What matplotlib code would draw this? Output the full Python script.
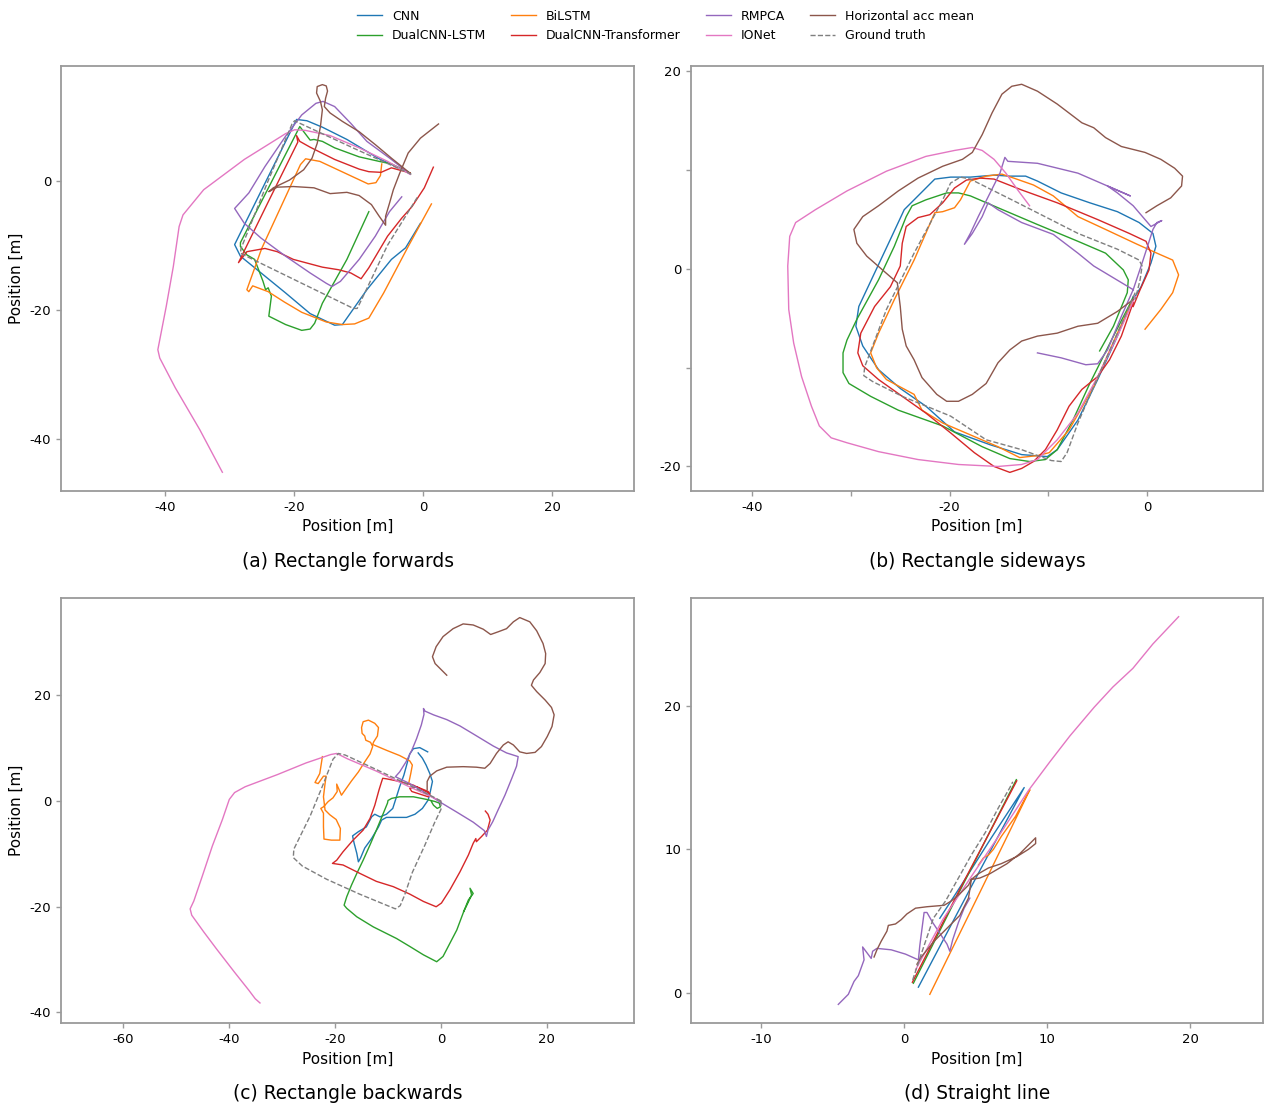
import matplotlib
matplotlib.use("Agg")
import matplotlib.pyplot as plt

plt.rcParams['font.family'] = ['DejaVu Sans']
plt.rcParams['axes.unicode_minus'] = False

# ---------------- legend / series definitions ----------------
series_names = ["CNN", "DualCNN-LSTM", "BiLSTM", "DualCNN-Transformer",
                "RMPCA", "IONet", "Horizontal acc mean", "Ground truth"]
series_colors = ["#1f77b4", "#2ca02c", "#ff7f0e", "#d62728",
                 "#9467bd", "#e377c2", "#8c564b", "#7f7f7f"]

# ---------------- (a) Rectangle forwards ----------------
a_cnn = [(-2.0, 1.2), (-6.8, 3.4), (-11.8, 6.4), (-15.6, 8.3), (-18.0, 9.3), (-19.6, 9.5),
         (-24.4, -0.2), (-29.2, -9.9), (-28.3, -11.7), (-25.1, -14.3), (-21.3, -17.4),
         (-17.5, -20.6), (-13.7, -22.4), (-12.5, -22.3), (-8.7, -16.9), (-4.9, -12.2),
         (-2.7, -10.4), (-0.4, -6.6)]
a_dualcnn_lstm = [(-2.0, 1.2), (-4.9, 2.6), (-6.8, 3.0), (-9.9, 3.7), (-13.7, 5.1), (-15.6, 6.1),
                  (-16.9, 6.4), (-17.5, 6.3), (-19.1, 8.4), (-23.7, -0.6), (-28.3, -9.6),
                  (-28.3, -10.2), (-27.3, -11.5), (-26.1, -12.2), (-25.6, -13.5), (-24.8, -15.6),
                  (-24.4, -16.9), (-24.0, -16.6), (-23.5, -17.9), (-23.9, -21.0), (-21.3, -22.3),
                  (-18.8, -23.2), (-17.5, -23.0), (-16.8, -22.1), (-15.6, -19.0), (-11.8, -12.2),
                  (-8.4, -4.8)]
a_bilstm = [(-6.4, 2.6), (-6.6, 0.8), (-7.3, -0.3), (-8.5, -0.5), (-10.0, 0.2), (-13.0, 1.6),
            (-16.0, 3.0), (-18.2, 3.4), (-19.0, 2.5), (-22.0, -4.0), (-25.0, -10.5),
            (-27.3, -16.9), (-27.0, -17.2), (-26.4, -16.3), (-24.0, -17.2), (-21.5, -18.8),
            (-18.8, -20.4), (-15.0, -21.9), (-12.5, -22.3), (-10.6, -22.2), (-8.4, -21.3),
            (-6.1, -17.4), (-2.3, -10.2), (1.3, -3.6)]
a_dualcnn_transformer = [(-2.0, 1.2), (-4.9, 2.0), (-6.5, 1.3), (-8.4, 1.4), (-9.9, 1.8),
                         (-13.7, 3.3), (-17.5, 5.2), (-19.1, 6.1), (-19.6, 7.0), (-19.4, 6.0),
                         (-24.0, -3.3), (-28.6, -12.7), (-27.3, -11.0), (-24.5, -10.5),
                         (-22.6, -11.0), (-20.1, -12.2), (-15.6, -13.4), (-13.1, -13.8),
                         (-11.2, -14.3), (-9.6, -15.2), (-8.4, -13.5), (-5.5, -8.6), (-3.3, -5.8),
                         (-1.7, -4.0), (0.2, -1.1), (1.6, 2.1)]
a_rmpca = [(-2.0, 1.0), (-4.9, 3.3), (-8.7, 6.1), (-11.2, 8.9), (-13.7, 11.5), (-15.5, 12.3),
           (-16.6, 12.0), (-18.8, 10.2), (-21.3, 6.9), (-24.5, 2.2), (-27.0, -1.9), (-29.2, -4.3),
           (-27.7, -6.6), (-25.1, -8.9), (-21.3, -11.7), (-17.5, -14.3), (-15.0, -15.9),
           (-14.1, -16.4), (-12.8, -15.6), (-9.9, -12.2), (-7.4, -8.6), (-5.2, -4.8), (-3.3, -2.5)]
a_ionet = [(-2.0, 1.0), (-5.5, 3.0), (-9.9, 5.1), (-14.4, 7.0), (-18.2, 7.8), (-19.9, 7.9),
           (-21.3, 7.3), (-27.7, 3.3), (-34.0, -1.4), (-37.2, -5.3), (-37.8, -7.1), (-38.7, -13.3),
           (-39.8, -19.5), (-41.1, -26.2), (-40.8, -27.5), (-38.4, -32.1), (-34.6, -38.6),
           (-31.1, -45.2)]
a_horizontal = [(-2.3, 1.4), (-4.9, 3.5), (-7.4, 5.6), (-9.9, 7.6), (-12.5, 9.2), (-14.4, 10.5),
                (-15.3, 11.5), (-15.1, 12.8), (-14.8, 13.9), (-15.0, 14.7), (-15.6, 14.9),
                (-16.4, 14.6), (-16.5, 13.6), (-15.9, 12.3), (-15.6, 11.0), (-15.9, 8.4),
                (-16.4, 5.8), (-17.2, 3.5), (-18.5, 1.7), (-20.7, 0.1), (-23.2, -1.1),
                (-23.9, -1.7), (-22.6, -1.0), (-20.1, -0.9), (-16.9, -1.1), (-14.4, -2.0),
                (-11.8, -1.8), (-9.9, -2.3), (-8.0, -3.7), (-6.8, -5.5), (-5.8, -6.9), (-5.8, -5.5),
                (-5.2, -3.5), (-4.6, -1.4), (-3.6, 1.2), (-2.3, 4.3), (-0.4, 6.6), (2.4, 8.8)]
a_ground_truth = [(-1.8, 1.0), (-10.0, 4.7), (-19.3, 9.0), (-19.9, 9.3), (-20.3, 8.8),
                  (-24.0, 0.0), (-28.2, -10.5), (-28.3, -11.2), (-27.6, -11.6), (-19.0, -15.8),
                  (-10.8, -19.8), (-10.2, -19.8), (-9.8, -19.0), (-5.5, -10.0), (-0.9, -2.6)]

# ---------------- (b) Rectangle sideways ----------------
b_cnn = [(-1.4, -2.8), (-3.0, -6.8), (-5.0, -11.2), (-7.0, -15.3), (-9.1, -18.3), (-10.1, -19.0),
         (-12.7, -18.8), (-15.9, -17.8), (-19.5, -16.5), (-22.4, -13.9), (-25.0, -12.1),
         (-27.2, -10.2), (-28.8, -7.8), (-29.5, -5.8), (-29.2, -3.8), (-27.6, -0.4), (-26.0, 3.0),
         (-24.6, 6.0), (-23.2, 7.4), (-21.5, 9.1), (-19.9, 9.3), (-17.9, 9.3), (-15.5, 9.5),
         (-13.9, 9.4), (-12.3, 9.4), (-11.1, 8.9), (-8.7, 7.7), (-5.8, 6.7), (-3.0, 5.8),
         (-0.8, 4.7), (0.6, 3.6), (0.9, 2.3), (0.4, 0.6), (-0.6, -1.8), (-1.4, -3.1)]
b_dualcnn_lstm = [(-1.4, -2.9), (-3.4, -6.8), (-5.8, -11.6), (-7.5, -15.3), (-9.1, -18.3),
                  (-10.3, -19.3), (-11.9, -19.5), (-13.9, -19.2), (-16.7, -18.0), (-20.7, -15.9),
                  (-25.2, -14.3), (-28.0, -12.9), (-30.2, -11.6), (-30.8, -10.5), (-30.8, -8.5),
                  (-30.4, -7.2), (-29.4, -5.1), (-27.2, -1.1), (-25.6, 2.3), (-24.4, 5.3),
                  (-23.8, 6.4), (-22.4, 7.0), (-20.3, 7.7), (-19.1, 7.7), (-17.9, 7.4),
                  (-15.1, 6.2), (-11.1, 4.5), (-7.0, 2.8), (-4.2, 1.6), (-2.4, -0.1), (-1.9, -1.1),
                  (-2.0, -2.4), (-3.4, -5.8), (-4.8, -8.3)]
b_bilstm = [(-1.4, -3.1), (-3.0, -6.5), (-5.4, -11.9), (-7.9, -16.3), (-9.9, -18.6),
            (-11.1, -18.9), (-12.9, -19.1), (-15.1, -18.0), (-17.9, -16.8), (-20.7, -15.6),
            (-22.8, -14.3), (-23.6, -12.7), (-26.4, -11.2), (-27.4, -10.0), (-28.0, -8.5),
            (-27.2, -6.5), (-25.6, -3.1), (-23.6, 0.9), (-21.5, 5.7), (-20.7, 5.8), (-19.5, 6.2),
            (-18.9, 7.0), (-17.9, 8.9), (-16.3, 9.4), (-14.7, 9.6), (-13.5, 9.2), (-11.5, 8.5),
            (-9.5, 7.4), (-7.0, 5.3), (-4.2, 4.0), (-1.0, 2.5), (1.0, 1.6), (2.6, 0.9),
            (3.2, -0.6), (2.6, -2.4), (1.4, -4.1), (-0.2, -6.1)]
b_dualcnn_transformer = [(-1.4, -3.4), (-2.6, -6.8), (-3.8, -9.2), (-5.0, -10.9), (-6.6, -12.2),
                         (-7.9, -13.9), (-9.1, -16.3), (-10.3, -18.3), (-11.5, -19.5),
                         (-12.7, -20.2), (-13.9, -20.6), (-15.5, -20.0), (-17.5, -18.6),
                         (-19.9, -16.6), (-22.4, -14.6), (-24.8, -12.9), (-27.2, -11.2),
                         (-28.8, -9.8), (-29.3, -8.5), (-29.0, -6.5), (-27.6, -3.8), (-26.0, -1.8),
                         (-25.0, 0.3), (-24.8, 2.6), (-24.4, 4.3), (-23.2, 5.2), (-22.0, 5.5),
                         (-20.7, 6.7), (-19.5, 8.2), (-18.3, 9.0), (-16.9, 9.2), (-15.5, 9.1),
                         (-12.7, 8.0), (-9.1, 6.7), (-5.0, 5.0), (-1.8, 3.6), (-0.1, 2.8),
                         (0.4, 1.6), (0.2, -0.1), (-0.7, -2.1), (-1.4, -3.8)]
b_rmpca = [(-11.1, -8.5), (-8.7, -9.0), (-6.2, -9.7), (-5.0, -9.6), (-4.0, -8.2), (-2.6, -4.8),
           (-1.4, -2.1), (-0.4, 0.9), (0.6, 4.0), (1.0, 4.7), (1.5, 4.9), (0.4, 4.3), (-0.2, 5.0),
           (-1.4, 6.4), (-3.0, 7.7), (-4.0, 8.4), (-1.7, 7.4), (-4.0, 8.4), (-7.0, 9.7),
           (-11.1, 10.7), (-14.1, 10.9), (-14.4, 11.3), (-14.9, 9.7), (-15.9, 7.7), (-17.1, 5.3),
           (-17.9, 3.6), (-18.5, 2.5), (-17.7, 3.6), (-16.7, 5.3), (-16.1, 6.7), (-15.1, 6.0),
           (-12.7, 4.7), (-9.5, 3.5), (-7.0, 1.6), (-5.4, 0.3), (-3.4, -0.9), (-1.4, -2.1)]
b_ionet = [(-1.2, -2.8), (-3.0, -6.8), (-5.0, -10.9), (-7.0, -14.6), (-9.1, -17.3), (-11.1, -19.3),
           (-12.7, -19.8), (-15.1, -20.0), (-19.1, -19.8), (-23.2, -19.3), (-27.2, -18.5),
           (-30.4, -17.6), (-32.0, -17.1), (-33.2, -15.9), (-34.0, -13.9), (-35.0, -10.9),
           (-35.8, -7.5), (-36.3, -4.1), (-36.4, 0.3), (-36.2, 3.3), (-35.6, 4.7), (-33.6, 6.0),
           (-30.4, 7.9), (-26.4, 9.9), (-22.4, 11.4), (-19.5, 12.0), (-17.7, 12.3), (-16.7, 12.0),
           (-15.5, 11.1), (-14.3, 9.7), (-13.1, 8.0), (-11.9, 6.4)]
b_horizontal = [(-1.4, -3.1), (-3.0, -4.3), (-5.0, -5.5), (-7.0, -5.8), (-9.1, -6.5), (-11.1, -6.8),
                (-12.7, -7.3), (-13.9, -8.2), (-15.1, -9.5), (-16.3, -11.6), (-17.7, -12.7),
                (-19.1, -13.4), (-20.3, -13.4), (-21.3, -12.7), (-22.8, -11.0), (-23.6, -9.2),
                (-24.4, -7.8), (-24.8, -6.1), (-25.0, -3.8), (-25.3, -1.4), (-26.8, -0.1),
                (-28.4, 1.3), (-29.4, 2.6), (-29.7, 4.0), (-28.8, 5.3), (-27.2, 6.4), (-25.2, 7.9),
                (-23.2, 9.2), (-20.7, 10.4), (-18.7, 11.1), (-17.7, 11.8), (-16.7, 13.6),
                (-15.7, 15.8), (-14.7, 17.7), (-13.7, 18.5), (-12.7, 18.7), (-11.1, 18.0),
                (-9.1, 16.7), (-6.6, 14.8), (-5.4, 14.3), (-4.2, 13.3), (-2.6, 12.4), (-0.2, 11.8),
                (1.4, 11.1), (2.8, 10.2), (3.6, 9.4), (3.5, 8.4), (2.4, 7.2), (1.0, 6.4), (-0.1, 5.7)]
b_ground_truth = [(-1.2, -2.4), (-3.0, -6.5), (-5.4, -11.9), (-7.0, -15.6), (-8.1, -18.6),
                  (-8.7, -19.5), (-9.7, -19.4), (-12.7, -18.3), (-16.3, -17.3), (-19.9, -14.9),
                  (-24.8, -12.9), (-27.8, -11.4), (-28.7, -10.8), (-28.6, -9.9), (-26.4, -4.1),
                  (-23.6, 1.6), (-20.7, 7.0), (-19.9, 8.7), (-18.9, 9.3), (-17.9, 9.1),
                  (-13.1, 6.7), (-7.0, 3.6), (-3.0, 2.0), (-0.8, 0.9), (-0.5, 0.3), (-0.7, -1.1),
                  (-1.2, -3.1)]

# ---------------- (c) Rectangle backwards ----------------
c_cnn = [(-2.5, 9.3), (-4.0, 10.1), (-5.2, 9.9), (-5.9, 8.9), (-6.4, 7.1), (-7.0, 4.9), (-7.8, 2.7),
         (-8.4, 0.8), (-9.1, -1.4), (-10.3, -2.5), (-11.5, -3.0), (-12.5, -2.5), (-13.1, -3.0),
         (-14.1, -4.9), (-15.6, -5.8), (-16.7, -6.6), (-16.4, -8.0), (-15.9, -9.9), (-15.6, -11.5),
         (-15.2, -10.8), (-14.4, -8.9), (-13.1, -7.1), (-11.8, -4.9), (-11.2, -3.6), (-10.3, -3.1),
         (-8.4, -3.1), (-6.5, -3.1), (-4.9, -2.5), (-3.5, -1.4), (-2.4, 0.2), (-2.0, 1.8),
         (-1.6, 3.7), (-2.1, 5.2), (-2.8, 6.8), (-3.5, 8.1), (-4.3, 9.1)]
c_dualcnn_lstm = [(-1.8, -0.1), (-1.4, -0.8), (-0.7, -1.4), (-0.1, -1.1), (-0.3, -0.4), (-1.1, -0.1),
                  (-2.7, 0.3), (-5.2, 0.8), (-7.8, 0.8), (-9.3, 0.5), (-10.0, 0.1), (-10.1, -0.4),
                  (-11.0, -2.6), (-12.2, -5.5), (-13.4, -8.3), (-14.7, -11.2), (-15.9, -13.7),
                  (-16.9, -15.9), (-17.8, -18.1), (-18.3, -19.7), (-17.8, -20.3), (-15.9, -21.9),
                  (-12.8, -23.8), (-8.4, -26.0), (-5.9, -27.5), (-3.3, -29.1), (-0.8, -30.4),
                  (0.4, -29.4), (1.7, -26.9), (3.0, -24.4), (4.2, -21.2), (5.2, -18.7),
                  (6.1, -17.5), (5.5, -16.5), (5.8, -17.8), (4.9, -19.7), (4.3, -20.9)]
c_bilstm = [(-6.1, 3.3), (-5.7, 5.2), (-5.4, 6.8), (-5.9, 7.6), (-7.8, 8.6), (-10.3, 9.6),
            (-12.9, 10.7), (-12.7, 11.2), (-12.0, 12.3), (-11.8, 13.9), (-12.5, 14.7),
            (-13.7, 15.3), (-14.7, 15.0), (-15.0, 13.9), (-14.9, 12.8), (-14.4, 12.3),
            (-14.2, 11.5), (-13.3, 11.1), (-12.9, 10.3), (-13.4, 8.9), (-14.4, 7.4), (-15.6, 5.5),
            (-16.9, 3.8), (-18.1, 2.1), (-18.8, 1.1), (-19.7, 3.2), (-19.6, 1.8), (-20.4, 0.6),
            (-21.3, -0.1), (-22.2, -1.1), (-22.7, -1.4), (-22.2, -2.3), (-22.2, -4.9),
            (-22.1, -7.2), (-20.7, -7.4), (-19.1, -7.4), (-19.0, -5.2), (-19.8, -3.5),
            (-21.0, -2.6), (-21.9, -1.7), (-22.2, 0.8), (-21.9, 3.3), (-21.7, 4.7), (-22.2, 4.7),
            (-23.2, 3.3), (-23.8, 3.5), (-22.9, 5.2), (-22.4, 8.4)]
c_dualcnn_transformer = [(-2.0, 0.9), (-2.4, 1.8), (-4.6, 2.7), (-5.9, 2.4), (-5.5, 1.8),
                         (-2.4, 0.8), (-2.1, 1.4), (-5.2, 3.0), (-7.8, 3.7), (-10.3, 4.2),
                         (-11.0, 4.3), (-11.2, 3.7), (-11.7, 2.1), (-12.5, -0.8), (-13.4, -3.3),
                         (-14.7, -5.5), (-16.6, -7.4), (-18.5, -9.6), (-19.7, -11.2),
                         (-20.5, -11.8), (-18.5, -12.1), (-15.3, -13.7), (-12.2, -15.2),
                         (-9.0, -16.2), (-5.9, -17.6), (-3.3, -19.0), (-0.9, -20.0), (0.1, -19.3),
                         (1.7, -16.8), (3.6, -13.4), (5.2, -10.2), (6.1, -8.0), (6.6, -7.1),
                         (6.7, -7.7), (7.7, -6.7), (8.8, -5.5), (9.3, -3.6), (8.9, -2.5), (8.4, -1.9)]
c_rmpca = [(0.0, -0.3), (3.0, -2.1), (6.1, -4.0), (8.2, -5.6), (8.6, -6.7), (8.9, -5.5), (9.8, -3.9),
           (10.8, -1.7), (12.1, 1.1), (13.4, 4.3), (14.3, 6.6), (14.6, 8.4), (12.4, 9.1),
           (9.9, 10.4), (6.1, 12.7), (3.6, 14.2), (1.1, 15.4), (-1.4, 16.3), (-3.0, 17.0),
           (-3.3, 17.5), (-3.2, 16.4), (-3.7, 14.4), (-4.6, 11.8), (-5.5, 9.6), (-6.6, 7.4),
           (-7.8, 5.5), (-8.6, 4.6), (-5.9, 3.3), (-2.7, 1.4), (0.0, -0.3)]
c_ionet = [(0.0, 0.0), (-6.2, 2.8), (-12.3, 5.7), (-17.7, 8.0), (-19.7, 9.0), (-20.8, 8.8),
           (-25.5, 7.2), (-30.9, 5.0), (-37.0, 2.7), (-39.0, 1.6), (-40.0, 0.3), (-41.3, -3.5),
           (-43.2, -8.5), (-45.1, -14.2), (-46.7, -18.9), (-47.4, -20.4), (-47.1, -21.6),
           (-44.8, -24.8), (-42.4, -28.0), (-39.0, -32.4), (-36.3, -35.8), (-35.1, -37.4),
           (-34.2, -38.2)]
c_horizontal = [(-2.6, 2.1), (-2.6, 3.7), (-2.1, 4.7), (-0.8, 5.7), (1.1, 6.4), (4.2, 6.5),
                (6.7, 6.4), (8.3, 6.2), (9.3, 7.1), (10.5, 9.0), (11.8, 10.6), (12.7, 11.2),
                (13.7, 10.6), (14.9, 9.3), (16.2, 9.0), (17.8, 9.2), (19.0, 10.3), (20.1, 12.2),
                (21.0, 14.1), (21.4, 16.3), (20.9, 17.7), (19.7, 19.1), (18.1, 20.7), (17.1, 21.9),
                (17.5, 22.9), (18.7, 24.3), (19.7, 26.0), (19.8, 27.9), (19.3, 29.8), (18.1, 32.2),
                (16.8, 33.9), (14.9, 34.7), (13.7, 33.9), (12.4, 32.6), (10.8, 32.0), (9.4, 31.5),
                (8.0, 32.5), (6.1, 33.3), (4.2, 33.5), (2.3, 32.6), (0.4, 31.1), (-0.9, 29.2),
                (-1.6, 27.3), (-1.1, 26.0), (0.1, 24.8), (1.1, 23.8)]
c_ground_truth = [(0.0, 0.0), (0.0, -1.6), (-1.2, -4.1), (-3.1, -8.5), (-5.4, -13.5), (-6.9, -17.9),
                  (-7.7, -19.8), (-8.6, -20.4), (-10.8, -19.5), (-15.4, -17.6), (-21.6, -14.8),
                  (-26.2, -12.3), (-27.9, -10.7), (-27.8, -9.1), (-24.7, -2.8), (-22.4, 2.8),
                  (-20.4, 7.9), (-19.4, 9.0), (-18.1, 8.7), (-12.3, 6.0), (-6.2, 3.1),
                  (-1.5, 0.8), (0.0, 0.0)]

# ---------------- (d) Straight line ----------------
d_cnn = [(1.0, 0.4), (4.7, 7.4), (8.4, 14.3), (6.1, 10.8), (4.0, 7.5), (2.5, 5.2)]
d_dualcnn_lstm = [(0.65, 0.67), (4.2, 7.7), (7.85, 14.85)]
d_bilstm = [(1.8, -0.1), (5.3, 7.0), (8.8, 14.15), (8.65, 13.9), (7.8, 12.3), (6.8, 10.9),
            (6.25, 10.0), (5.9, 9.6), (5.55, 9.4), (5.2, 8.9)]
d_dualcnn_transformer = [(0.58, 0.74), (4.2, 7.8), (7.88, 14.77)]
d_rmpca = [(-4.6, -0.8), (-3.9, -0.1), (-3.5, 0.8), (-3.2, 1.2), (-2.8, 2.3), (-2.9, 3.2),
           (-2.6, 2.8), (-2.3, 2.4), (-2.2, 2.9), (-1.9, 3.1), (-0.9, 3.0), (0.1, 2.7), (1.0, 2.3),
           (1.1, 3.3), (1.4, 5.6), (1.6, 5.6), (2.0, 4.9), (2.6, 4.0), (3.0, 3.4), (3.2, 2.9),
           (3.4, 3.7), (3.8, 4.9), (4.2, 5.9), (4.6, 6.6)]
d_ionet = [(0.8, 1.6), (2.7, 5.1), (4.9, 8.4), (6.6, 10.9), (8.7, 14.1), (10.2, 16.1),
           (11.6, 17.9), (13.3, 19.9), (14.6, 21.3), (16.0, 22.6), (17.4, 24.3), (19.2, 26.2)]
d_horizontal = [(-2.1, 2.5), (-1.9, 3.0), (-1.6, 3.6), (-1.2, 4.3), (-1.1, 4.7), (-0.6, 4.8),
                (-0.2, 5.1), (0.2, 5.5), (0.8, 5.9), (1.6, 6.0), (2.8, 6.1), (3.3, 6.4), (3.9, 6.9),
                (4.5, 7.5), (4.7, 7.9), (5.3, 8.0), (6.0, 8.3), (7.2, 9.0), (8.1, 9.7), (8.9, 10.5),
                (9.2, 10.8), (9.2, 10.4), (8.7, 10.0), (7.9, 9.5), (6.8, 9.0), (5.9, 8.7),
                (5.2, 8.3), (4.7, 7.9), (4.6, 7.2), (4.5, 6.6), (3.9, 5.4), (3.0, 4.5), (2.1, 3.6),
                (1.2, 2.5), (0.9, 2.0)]
d_ground_truth = [(0.6, 0.9), (1.3, 3.0), (2.05, 5.2), (2.9, 6.4), (3.8, 8.0), (4.7, 9.6),
                  (5.7, 11.2), (6.6, 12.9), (7.4, 14.3), (7.6, 14.7)]

panels = [
    dict(rect=[0.0483, 0.5561, 0.4533, 0.3843], xlim=(-56.1, 32.7), ylim=(-48.1, 17.8),
         xticks=[-40, -20, 0, 20], xlabels=["-40", "-20", "0", "20"],
         yticks=[-40, -20, 0], ylabels=["-40", "-20", "0"], ylabel=True,
         caption="(a) Rectangle forwards", cap_y=0.4925,
         data=[a_cnn, a_dualcnn_lstm, a_bilstm, a_dualcnn_transformer, a_rmpca, a_ionet,
               a_horizontal, a_ground_truth]),
    dict(rect=[0.5467, 0.5561, 0.4525, 0.3843], xlim=(-46.2, 11.75), ylim=(-22.48, 20.56),
         xticks=[-40, -30, -20, -10, 0], xlabels=["-40", "", "-20", "", "0"],
         yticks=[-20, -10, 0, 10, 20], ylabels=["-20", "", "0", "", "20"], ylabel=False,
         caption="(b) Rectangle sideways", cap_y=0.4925,
         data=[b_cnn, b_dualcnn_lstm, b_bilstm, b_dualcnn_transformer, b_rmpca, b_ionet,
               b_horizontal, b_ground_truth]),
    dict(rect=[0.0483, 0.0750, 0.4533, 0.3843], xlim=(-71.8, 36.5), ylim=(-42.0, 38.4),
         xticks=[-60, -40, -20, 0, 20], xlabels=["-60", "-40", "-20", "0", "20"],
         yticks=[-40, -20, 0, 20], ylabels=["-40", "-20", "0", "20"], ylabel=True,
         caption="(c) Rectangle backwards", cap_y=0.0115,
         data=[c_cnn, c_dualcnn_lstm, c_bilstm, c_dualcnn_transformer, c_rmpca, c_ionet,
               c_horizontal, c_ground_truth]),
    dict(rect=[0.5467, 0.0750, 0.4525, 0.3843], xlim=(-14.9, 25.1), ylim=(-2.1, 27.5),
         xticks=[-10, 0, 10, 20], xlabels=["-10", "0", "10", "20"],
         yticks=[0, 10, 20], ylabels=["0", "10", "20"], ylabel=False,
         caption="(d) Straight line", cap_y=0.0115,
         data=[d_cnn, d_dualcnn_lstm, d_bilstm, d_dualcnn_transformer, d_rmpca, d_ionet,
               d_horizontal, d_ground_truth]),
]

fig = plt.figure(figsize=(12.64, 11.06), dpi=100)
spine_grey = "#9a9a9a"

handles = []
for p in panels:
    ax = fig.add_axes(p["rect"])
    for name, color, path in zip(series_names, series_colors, p["data"]):
        xs = [pt[0] for pt in path]
        ys = [pt[1] for pt in path]
        style = "--" if name == "Ground truth" else "-"
        line, = ax.plot(xs, ys, style, color=color, lw=1.0, label=name)
        if p is panels[0]:
            handles.append(line)
    ax.set_xlim(*p["xlim"])
    ax.set_ylim(*p["ylim"])
    ax.set_xticks(p["xticks"])
    ax.set_xticklabels(p["xlabels"])
    ax.set_yticks(p["yticks"])
    ax.set_yticklabels(p["ylabels"])
    ax.tick_params(color=spine_grey, labelsize=9.5, length=3.5, width=1.0)
    for sp in ax.spines.values():
        sp.set_color(spine_grey)
        sp.set_linewidth(1.3)
    ax.set_xlabel("Position [m]", fontsize=11)
    if p["ylabel"]:
        ax.set_ylabel("Position [m]", fontsize=11)
    cx = p["rect"][0] + p["rect"][2] / 2
    fig.text(cx, p["cap_y"], p["caption"], ha="center", va="center", fontsize=13.4)

fig.legend(handles, series_names, loc="center", bbox_to_anchor=(0.5265, 0.9765), ncol=4,
           frameon=False, fontsize=9)

fig.savefig("out.png", dpi=100)
